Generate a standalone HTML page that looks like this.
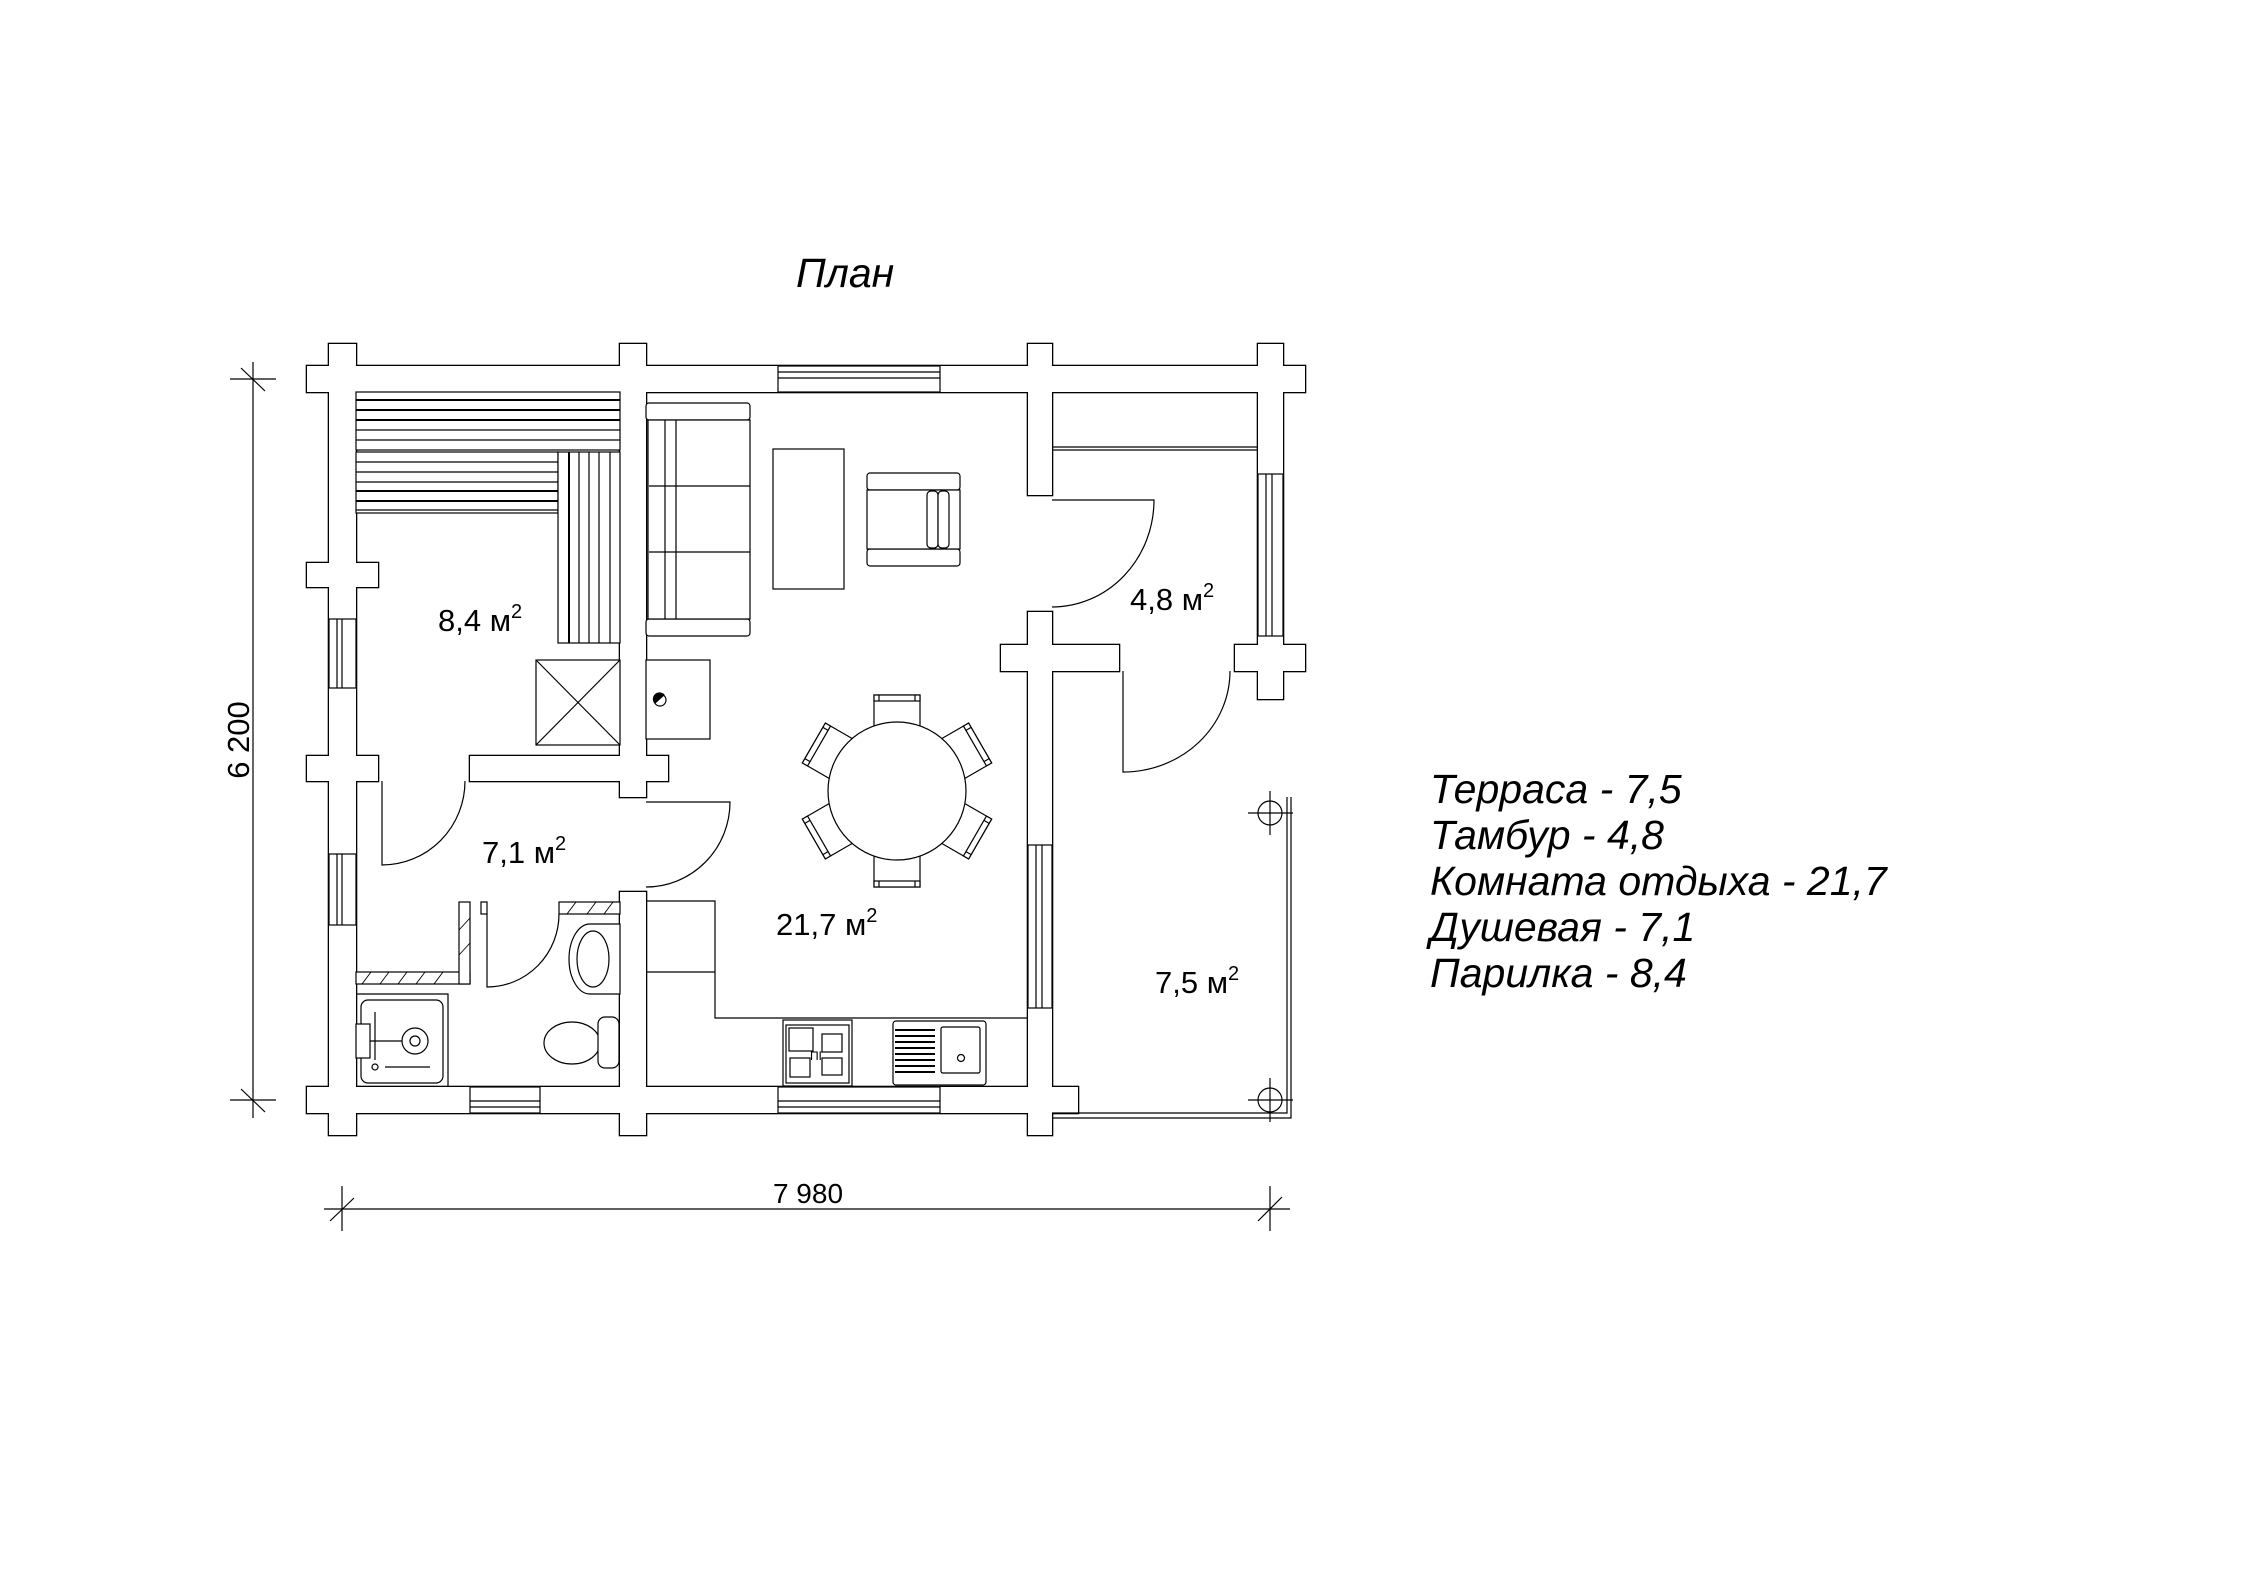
<!DOCTYPE html>
<html><head><meta charset="utf-8"><style>
html,body{margin:0;padding:0;background:#fff}
svg{display:block}
text{font-family:"Liberation Sans",sans-serif;fill:#000}
</style></head><body>
<svg width="2245" height="1587" viewBox="0 0 2245 1587" xmlns="http://www.w3.org/2000/svg">
<defs>
<g id="w">
<rect x="307" y="366" width="998" height="26"/>
<rect x="329" y="344" width="27" height="791"/>
<rect x="620" y="344" width="26" height="453"/>
<rect x="620" y="892" width="26" height="243"/>
<rect x="1028" y="344" width="24" height="151"/>
<rect x="1028" y="612" width="24" height="523"/>
<rect x="1258" y="344" width="25" height="355"/>
<rect x="307" y="563" width="71" height="24"/>
<rect x="307" y="756" width="71" height="25"/>
<rect x="470" y="756" width="198" height="25"/>
<rect x="307" y="1087" width="771" height="26"/>
<rect x="1001" y="645" width="118" height="26"/>
<rect x="1235" y="645" width="70" height="26"/>
</g>
</defs>
<use href="#w" fill="#fff" stroke="#000" stroke-width="2.6"/>
<use href="#w" fill="#fff" stroke="none"/>
<g fill="#fff" stroke="#000" stroke-width="1.2">
<rect x="329" y="619" width="27" height="69"/><line x1="337" y1="619" x2="337" y2="688"/><line x1="342" y1="619" x2="342" y2="688"/>
<rect x="329" y="854" width="27" height="71"/><line x1="337" y1="854" x2="337" y2="925"/><line x1="342" y1="854" x2="342" y2="925"/>
<rect x="1258" y="474" width="25" height="162"/><line x1="1266" y1="474" x2="1266" y2="636"/><line x1="1272" y1="474" x2="1272" y2="636"/>
<rect x="1028" y="845" width="24" height="163"/><line x1="1036" y1="845" x2="1036" y2="1008"/><line x1="1042" y1="845" x2="1042" y2="1008"/>
<rect x="778" y="366" width="162" height="26"/><line x1="778" y1="372" x2="940" y2="372"/><line x1="778" y1="378" x2="940" y2="378"/>
<rect x="470" y="1087" width="70" height="26"/><line x1="470" y1="1101" x2="540" y2="1101"/><line x1="470" y1="1107" x2="540" y2="1107"/>
<rect x="778" y="1087" width="162" height="26"/><line x1="778" y1="1101" x2="940" y2="1101"/><line x1="778" y1="1107" x2="940" y2="1107"/>
<rect x="356" y="392" width="264" height="58"/>
<line x1="356" y1="400" x2="620" y2="400" stroke-width="2"/><line x1="356" y1="410" x2="620" y2="410" stroke-width="2"/><line x1="356" y1="420" x2="620" y2="420" stroke-width="2"/><line x1="356" y1="430" x2="620" y2="430"/><line x1="356" y1="440" x2="620" y2="440"/>
<rect x="356" y="452" width="202" height="61"/>
<line x1="356" y1="462" x2="558" y2="462"/><line x1="356" y1="472" x2="558" y2="472"/><line x1="356" y1="482" x2="558" y2="482"/><line x1="356" y1="491" x2="558" y2="491" stroke-width="2"/><line x1="356" y1="501" x2="558" y2="501" stroke-width="2"/><line x1="356" y1="510" x2="558" y2="510"/>
<rect x="558" y="452" width="62" height="191"/>
<line x1="569" y1="452" x2="569" y2="643" stroke-width="2"/><line x1="579" y1="452" x2="579" y2="643"/><line x1="589" y1="452" x2="589" y2="643"/><line x1="599" y1="452" x2="599" y2="643"/><line x1="610" y1="452" x2="610" y2="643"/>
<rect x="536" y="660" width="84" height="85"/><line x1="536" y1="660" x2="620" y2="745"/><line x1="620" y1="660" x2="536" y2="745"/>
<rect x="646" y="660" width="64" height="79"/>
<circle cx="660" cy="700" r="6"/><path d="M655 703 A6 6 0 0 1 664 695 Z" fill="#000"/>
<rect x="646" y="403" width="104" height="17" rx="3"/>
<rect x="646" y="619" width="104" height="17" rx="3"/>
<rect x="648" y="420" width="102" height="199"/>
<line x1="649" y1="486" x2="750" y2="486"/><line x1="649" y1="552" x2="750" y2="552"/>
<line x1="665" y1="420" x2="665" y2="619"/><line x1="676" y1="420" x2="676" y2="619"/>
<rect x="773" y="449" width="71" height="140"/>
<rect x="867" y="473" width="93" height="17" rx="3"/>
<rect x="867" y="549" width="93" height="17" rx="3"/>
<rect x="867" y="490" width="93" height="59"/>
<rect x="927" y="491" width="11" height="57" rx="4"/><rect x="938" y="491" width="11" height="57" rx="4"/>
<polyline points="646,901 715,901 715,1018 1028,1018" fill="none"/>
<line x1="646" y1="972" x2="715" y2="972"/>
<rect x="783" y="1020" width="69" height="66"/><rect x="786" y="1025" width="63" height="58"/>
<rect x="789" y="1028" width="24" height="23"/><rect x="822" y="1034" width="20" height="18"/><rect x="790" y="1058" width="20" height="19"/><rect x="822" y="1058" width="20" height="17"/>
<text x="810" y="1060" font-size="12" stroke="none">ПГ</text>
<rect x="893" y="1021" width="93" height="64" rx="3"/><rect x="941" y="1027" width="39" height="46" rx="2"/><circle cx="961" cy="1058" r="3.5"/>
<g stroke-width="2"><line x1="895" y1="1030" x2="935" y2="1030"/><line x1="895" y1="1036" x2="935" y2="1036"/><line x1="895" y1="1042" x2="935" y2="1042"/><line x1="895" y1="1048" x2="935" y2="1048"/><line x1="895" y1="1054" x2="935" y2="1054"/><line x1="895" y1="1060" x2="935" y2="1060"/><line x1="895" y1="1066" x2="935" y2="1066"/><line x1="895" y1="1072" x2="935" y2="1072"/></g>
<rect x="356" y="972" width="114" height="12"/><rect x="459" y="902" width="11" height="82"/>
<rect x="481" y="902" width="6" height="12"/><rect x="559" y="902" width="61" height="12"/>
<g stroke-width="0.9"><line x1="362" y1="984" x2="371" y2="972"/><line x1="380" y1="984" x2="389" y2="972"/><line x1="398" y1="984" x2="407" y2="972"/><line x1="416" y1="984" x2="425" y2="972"/><line x1="434" y1="984" x2="443" y2="972"/><line x1="459" y1="930" x2="470" y2="918"/><line x1="459" y1="955" x2="470" y2="943"/><line x1="567" y1="914" x2="576" y2="902"/><line x1="587" y1="914" x2="596" y2="902"/><line x1="604" y1="914" x2="613" y2="902"/></g>
<polyline points="356,994 448,994 448,1087" fill="none"/>
<rect x="361" y="1000" width="82" height="83" rx="7"/>
<rect x="356" y="1024" width="14" height="34"/><line x1="370" y1="1041" x2="415" y2="1041"/><circle cx="415" cy="1041" r="13"/><circle cx="415" cy="1041" r="5"/>
<line x1="375" y1="1012" x2="375" y2="1060"/><line x1="385" y1="1067" x2="430" y2="1067"/><circle cx="375" cy="1067" r="3"/>
<path d="M590 924 h30 v70 h-30 a21 35 0 0 1 0 -70 Z"/><ellipse cx="593" cy="959" rx="16" ry="28"/>
<ellipse cx="572" cy="1043" rx="28" ry="21"/><rect x="598" y="1017" width="21" height="51" rx="7"/>
<g transform="translate(897,791)">
<g id="ch"><rect x="-23" y="-96" width="46" height="32"/><rect x="-23" y="-96" width="46" height="6"/><line x1="-18" y1="-96" x2="-18" y2="-90"/><line x1="18" y1="-96" x2="18" y2="-90"/></g>
<use href="#ch" transform="rotate(60)"/><use href="#ch" transform="rotate(120)"/><use href="#ch" transform="rotate(180)"/><use href="#ch" transform="rotate(240)"/><use href="#ch" transform="rotate(300)"/>
<circle r="69"/>
</g>
<line x1="1052" y1="447" x2="1258" y2="447"/><line x1="1052" y1="450" x2="1258" y2="450"/>
</g>
<g fill="none" stroke="#000" stroke-width="1.2">
<path d="M1052 500 H1154 A102 107 0 0 1 1052 607"/>
<path d="M1123 671 V772 A107 101 0 0 0 1230 671"/>
<path d="M382 781 V865 A83 84 0 0 0 465 781"/>
<path d="M646 802 H730 A84 85 0 0 1 646 887"/>
<path d="M487 914 V987 A72 73 0 0 0 559 914"/>
<polyline points="1052,1113 1287,1113 1287,797"/>
<polyline points="1052,1118 1291,1118 1291,797"/>
<circle cx="1270" cy="813" r="12"/><line x1="1248" y1="813" x2="1293" y2="813"/><line x1="1270" y1="791" x2="1270" y2="835"/>
<circle cx="1270" cy="1100" r="12"/><line x1="1248" y1="1100" x2="1293" y2="1100"/><line x1="1270" y1="1078" x2="1270" y2="1122"/>
<line x1="253" y1="362" x2="253" y2="1118"/><line x1="230" y1="379" x2="276" y2="379"/><line x1="241" y1="368" x2="265" y2="391"/>
<line x1="230" y1="1100" x2="276" y2="1100"/><line x1="241" y1="1089" x2="265" y2="1112"/>
<line x1="324" y1="1209" x2="1290" y2="1209"/><line x1="342" y1="1186" x2="342" y2="1231"/><line x1="330" y1="1221" x2="354" y2="1198"/>
<line x1="1270" y1="1186" x2="1270" y2="1231"/><line x1="1258" y1="1221" x2="1282" y2="1197"/>
</g>
<g font-size="31">
<text x="238" y="740" text-anchor="middle" transform="rotate(-90 238 740)" dy="11">6 200</text>
<text x="808" y="1203" text-anchor="middle" font-size="28">7 980</text>
<text x="438" y="631">8,4 м<tspan font-size="20" dy="-13">2</tspan></text>
<text x="1130" y="610">4,8 м<tspan font-size="20" dy="-13">2</tspan></text>
<text x="482" y="863">7,1 м<tspan font-size="20" dy="-13">2</tspan></text>
<text x="776" y="935">21,7 м<tspan font-size="20" dy="-13">2</tspan></text>
<text x="1155" y="993">7,5 м<tspan font-size="20" dy="-13">2</tspan></text>
</g>
<text x="796" y="287" font-size="41" font-style="italic">План</text>
<g font-size="41" font-style="italic">
<text x="1430" y="803">Терраса - 7,5</text>
<text x="1430" y="849">Тамбур - 4,8</text>
<text x="1430" y="895">Комната отдыха - 21,7</text>
<text x="1430" y="941">Душевая - 7,1</text>
<text x="1430" y="987">Парилка - 8,4</text>
</g>
</svg>
</body></html>
